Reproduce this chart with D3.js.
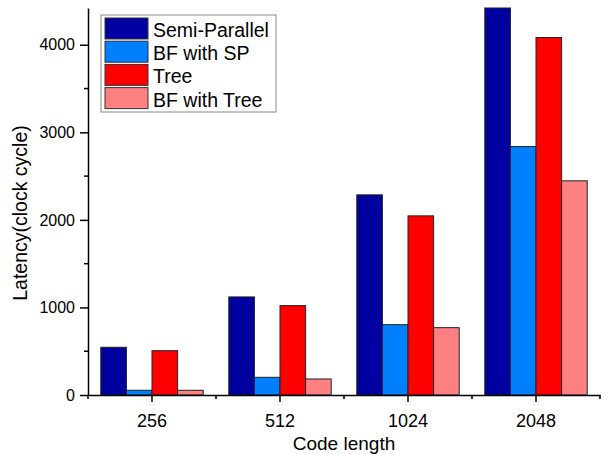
<!DOCTYPE html>
<html>
<head>
<meta charset="utf-8">
<script src="https://cdn.jsdelivr.net/npm/d3@7"></script>
<style>
  body { margin: 0; background: #fff; }
  text { font-family: "Liberation Sans", Arial, sans-serif; fill: #000; }
</style>
</head>
<body>
<div id="chart"></div>
<script>
// Data
var categories = ["256", "512", "1024", "2048"];
var seriesNames = ["Semi-Parallel", "BF with SP", "Tree", "BF with Tree"];
var semiParallel = [545, 1120, 2286, 4420];
var bfWithSP = [54, 202, 803, 2838];
var tree = [506, 1021, 2046, 4083];
var bfWithTree = [54, 183, 769, 2446];
var yTicks = [0, 1000, 2000, 3000, 4000];
var yMinorTicks = [500, 1500, 2500, 3500];

var colors = ["#0000A0", "#0080FF", "#FF0000", "#FF8080"];
var allSeries = [semiParallel, bfWithSP, tree, bfWithTree];

var W = 616, H = 454;
var MARGIN = { top: 8, right: 16, bottom: 59, left: 88 };

var svg = d3.select("#chart").append("svg")
  .attr("width", W)
  .attr("height", H);

var x = d3.scaleBand()
  .domain(categories)
  .range([MARGIN.left, W - MARGIN.right])
  .padding(0);

var inner = d3.scaleBand()
  .domain(d3.range(seriesNames.length))
  .range([0, x.bandwidth()])
  .paddingOuter(0.5)
  .paddingInner(0);

var y = d3.scaleLinear()
  .domain([0, 4420])
  .range([H - MARGIN.bottom, MARGIN.top]);

// bars
var groups = svg.append("g").selectAll("g")
  .data(categories)
  .enter().append("g")
  .attr("transform", function(d) { return "translate(" + x(d) + ",0)"; });

groups.selectAll("rect")
  .data(function(d, i) {
    return allSeries.map(function(s, k) { return { k: k, v: s[i] }; });
  })
  .enter().append("rect")
  .attr("x", function(d) { return inner(d.k); })
  .attr("y", function(d) { return y(d.v); })
  .attr("width", inner.bandwidth())
  .attr("height", function(d) { return y(0) - y(d.v); })
  .attr("fill", function(d) { return colors[d.k]; })
  .attr("stroke", "#222")
  .attr("stroke-width", 1);

// y axis
var yAxis = svg.append("g")
  .attr("transform", "translate(" + MARGIN.left + ",0)")
  .call(d3.axisLeft(y).tickValues(yTicks).tickFormat(d3.format("d"))
    .tickSize(8).tickPadding(5).tickSizeOuter(0));
yAxis.select(".domain").attr("stroke-width", 1.5);
yAxis.selectAll(".tick line").attr("stroke-width", 1.5);
yAxis.selectAll("text").style("font-size", "16px");

svg.append("g").selectAll("line")
  .data(yMinorTicks)
  .enter().append("line")
  .attr("x1", MARGIN.left - 4).attr("x2", MARGIN.left)
  .attr("y1", function(d) { return y(d); })
  .attr("y2", function(d) { return y(d); })
  .attr("stroke", "#000").attr("stroke-width", 1.5);

// x axis
var xAxis = svg.append("g")
  .attr("transform", "translate(0," + y(0) + ")")
  .call(d3.axisBottom(x).tickSize(7).tickPadding(12).tickSizeOuter(0));
xAxis.select(".domain").attr("stroke-width", 1.5);
xAxis.selectAll(".tick line").attr("stroke-width", 1.5);
xAxis.selectAll("text").style("font-size", "18px");

// minor ticks at group edges
svg.append("g").selectAll("line")
  .data(categories.concat(["end"]))
  .enter().append("line")
  .attr("x1", function(d) { return d === "end" ? x.range()[1] : x(d); })
  .attr("x2", function(d) { return d === "end" ? x.range()[1] : x(d); })
  .attr("y1", y(0)).attr("y2", y(0) + 4)
  .attr("stroke", "#000").attr("stroke-width", 1.5);

// axis titles
svg.append("text")
  .attr("transform", "translate(27,213) rotate(-90)")
  .attr("text-anchor", "middle")
  .style("font-size", "19.5px")
  .text("Latency(clock cycle)");

svg.append("text")
  .attr("x", (x.range()[0] + x.range()[1]) / 2)
  .attr("y", 450)
  .attr("text-anchor", "middle")
  .style("font-size", "19px")
  .text("Code length");

// legend
var legend = svg.append("g").attr("transform", "translate(101,15)");
legend.append("rect")
  .attr("width", 175).attr("height", 97)
  .attr("fill", "#fff").attr("stroke", "#888").attr("stroke-width", 1);

var rowH = 23.2;
var item = legend.selectAll("g.item")
  .data(seriesNames)
  .enter().append("g")
  .attr("class", "item")
  .attr("transform", function(d, i) { return "translate(4," + (3 + i * rowH) + ")"; });

item.append("rect")
  .attr("width", 43).attr("height", 21)
  .attr("fill", function(d, i) { return colors[i]; })
  .attr("stroke", "#333").attr("stroke-width", 1);

item.append("text")
  .attr("x", 48).attr("y", 19)
  .style("font-size", "19.5px")
  .text(function(d) { return d; });
</script>
</body>
</html>
